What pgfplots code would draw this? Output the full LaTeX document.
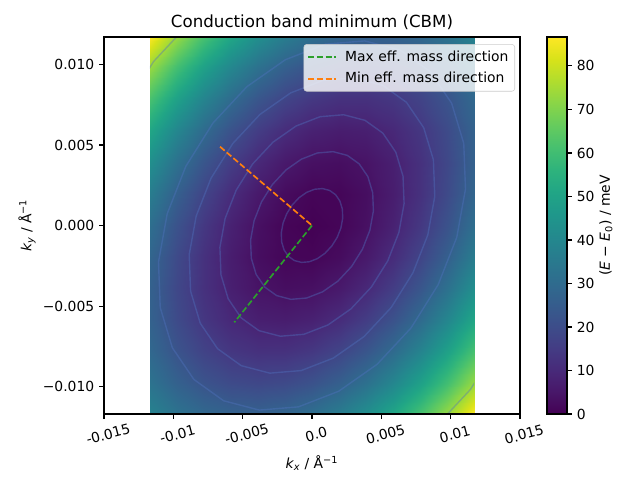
\documentclass[border=0pt]{standalone}
\usepackage{fontspec}
\setmainfont{DejaVu Sans}
\usepackage{pgfplots}
\pgfplotsset{compat=1.18}
\pgfplotsset{/pgf/number format/assume math mode=true}
\definecolor{mplgreen}{HTML}{2CA02C}
\definecolor{mplorange}{HTML}{FF7F0E}
\definecolor{clinec}{HTML}{5073C0}
\begin{document}
\begin{tikzpicture}
% ---------------- data region (filled map + contour lines) ----------------
\begin{axis}[name=data, at={(0,0)}, anchor=center, scale only axis,
  width=233.63pt, height=271.44pt,
  xmin=-11.7, xmax=11.7, ymin=-11.7, ymax=11.7,
  hide axis, colormap/viridis, point meta min=0, point meta max=86.65]
\addplot[surf, shader=interp, mesh/rows=13, mesh/cols=13, point meta=explicit]
table[x=x, y=y, meta=z]{
x y z
-11.7 -11.7 38.193
-9.75 -11.7 32.694
-7.8 -11.7 28.930
-5.85 -11.7 26.899
-3.9 -11.7 26.603
-1.95 -11.7 28.040
0 -11.7 31.211
1.95 -11.7 36.116
3.9 -11.7 42.755
5.85 -11.7 51.129
7.8 -11.7 61.236
9.75 -11.7 73.076
11.7 -11.7 86.651

-11.7 -9.75 32.694
-9.75 -9.75 26.522
-7.8 -9.75 22.085
-5.85 -9.75 19.381
-3.9 -9.75 18.412
-1.95 -9.75 19.176
0 -9.75 21.674
1.95 -9.75 25.906
3.9 -9.75 31.872
5.85 -9.75 39.573
7.8 -9.75 49.007
9.75 -9.75 60.174
11.7 -9.75 73.076

-11.7 -7.8 28.930
-9.75 -7.8 22.085
-7.8 -7.8 16.975
-5.85 -7.8 13.599
-3.9 -7.8 11.956
-1.95 -7.8 12.047
0 -7.8 13.872
1.95 -7.8 17.431
3.9 -7.8 22.724
5.85 -7.8 29.751
7.8 -7.8 38.513
9.75 -7.8 49.007
11.7 -7.8 61.236

-11.7 -5.85 26.899
-9.75 -5.85 19.381
-7.8 -5.85 13.599
-5.85 -5.85 9.549
-3.9 -5.85 7.233
-1.95 -5.85 6.651
0 -5.85 7.803
1.95 -5.85 10.689
3.9 -5.85 15.309
5.85 -5.85 21.663
7.8 -5.85 29.751
9.75 -5.85 39.573
11.7 -5.85 51.129

-11.7 -3.9 26.603
-9.75 -3.9 18.412
-7.8 -3.9 11.956
-5.85 -3.9 7.233
-3.9 -3.9 4.244
-1.95 -3.9 2.989
0 -3.9 3.468
1.95 -3.9 5.681
3.9 -3.9 9.628
5.85 -3.9 15.309
7.8 -3.9 22.724
9.75 -3.9 31.872
11.7 -3.9 42.755

-11.7 -1.95 28.040
-9.75 -1.95 19.176
-7.8 -1.95 12.047
-5.85 -1.95 6.651
-3.9 -1.95 2.989
-1.95 -1.95 1.061
0 -1.95 0.867
1.95 -1.95 2.407
3.9 -1.95 5.681
5.85 -1.95 10.689
7.8 -1.95 17.431
9.75 -1.95 25.906
11.7 -1.95 36.116

-11.7 0 31.211
-9.75 0 21.674
-7.8 0 13.872
-5.85 0 7.803
-3.9 0 3.468
-1.95 0 0.867
0 0 0
1.95 0 0.867
3.9 0 3.468
5.85 0 7.803
7.8 0 13.872
9.75 0 21.674
11.7 0 31.211

-11.7 1.95 36.116
-9.75 1.95 25.906
-7.8 1.95 17.431
-5.85 1.95 10.689
-3.9 1.95 5.681
-1.95 1.95 2.407
0 1.95 0.867
1.95 1.95 1.061
3.9 1.95 2.989
5.85 1.95 6.651
7.8 1.95 12.047
9.75 1.95 19.176
11.7 1.95 28.040

-11.7 3.9 42.755
-9.75 3.9 31.872
-7.8 3.9 22.724
-5.85 3.9 15.309
-3.9 3.9 9.628
-1.95 3.9 5.681
0 3.9 3.468
1.95 3.9 2.989
3.9 3.9 4.244
5.85 3.9 7.233
7.8 3.9 11.956
9.75 3.9 18.412
11.7 3.9 26.603

-11.7 5.85 51.129
-9.75 5.85 39.573
-7.8 5.85 29.751
-5.85 5.85 21.663
-3.9 5.85 15.309
-1.95 5.85 10.689
0 5.85 7.803
1.95 5.85 6.651
3.9 5.85 7.233
5.85 5.85 9.549
7.8 5.85 13.599
9.75 5.85 19.381
11.7 5.85 26.899

-11.7 7.8 61.236
-9.75 7.8 49.007
-7.8 7.8 38.513
-5.85 7.8 29.751
-3.9 7.8 22.724
-1.95 7.8 17.431
0 7.8 13.872
1.95 7.8 12.047
3.9 7.8 11.956
5.85 7.8 13.599
7.8 7.8 16.975
9.75 7.8 22.085
11.7 7.8 28.930

-11.7 9.75 73.076
-9.75 9.75 60.174
-7.8 9.75 49.007
-5.85 9.75 39.573
-3.9 9.75 31.872
-1.95 9.75 25.906
0 9.75 21.674
1.95 9.75 19.176
3.9 9.75 18.412
5.85 9.75 19.381
7.8 9.75 22.085
9.75 9.75 26.522
11.7 9.75 32.694

-11.7 11.7 86.651
-9.75 11.7 73.076
-7.8 11.7 61.236
-5.85 11.7 51.129
-3.9 11.7 42.755
-1.95 11.7 36.116
0 11.7 31.211
1.95 11.7 28.040
3.9 11.7 26.603
5.85 11.7 26.899
7.8 11.7 28.930
9.75 11.7 32.694
11.7 11.7 38.193
};
% contour lines
\addplot[clinec, opacity=0.4, line width=1pt, forget plot] coordinates {(1.703,1.911) (1.275,2.175) (0.761,2.291) (0.194,2.251) (-0.385,2.057) (-0.939,1.723) (-1.428,1.272) (-1.820,0.734) (-2.088,0.146) (-2.214,-0.452) (-2.189,-1.019) (-2.014,-1.517) (-1.703,-1.911) (-1.275,-2.175) (-0.761,-2.291) (-0.194,-2.251) (0.385,-2.057) (0.939,-1.723) (1.428,-1.272) (1.820,-0.734) (2.088,-0.146) (2.214,0.452) (2.189,1.019) (2.014,1.517) (1.703,1.911)};
\addplot[clinec, opacity=0.4, line width=1pt, forget plot] coordinates {(3.406,3.823) (2.551,4.351) (1.521,4.583) (0.389,4.502) (-0.770,4.115) (-1.877,3.447) (-2.856,2.544) (-3.640,1.468) (-4.176,0.292) (-4.428,-0.904) (-4.377,-2.038) (-4.029,-3.034) (-3.406,-3.823) (-2.551,-4.351) (-1.521,-4.583) (-0.389,-4.502) (0.770,-4.115) (1.877,-3.447) (2.856,-2.544) (3.640,-1.468) (4.176,-0.292) (4.428,0.904) (4.377,2.038) (4.029,3.034) (3.406,3.823)};
\addplot[clinec, opacity=0.4, line width=1pt, forget plot] coordinates {(5.109,5.734) (3.826,6.526) (2.282,6.874) (0.583,6.753) (-1.155,6.172) (-2.816,5.170) (-4.284,3.817) (-5.460,2.203) (-6.264,0.438) (-6.641,-1.356) (-6.566,-3.057) (-6.043,-4.551) (-5.109,-5.734) (-3.826,-6.526) (-2.282,-6.874) (-0.583,-6.753) (1.155,-6.172) (2.816,-5.170) (4.284,-3.817) (5.460,-2.203) (6.264,-0.438) (6.641,1.356) (6.566,3.057) (6.043,4.551) (5.109,5.734)};
\addplot[clinec, opacity=0.4, line width=1pt, forget plot] coordinates {(6.812,7.645) (5.101,8.701) (3.043,9.165) (0.778,9.004) (-1.540,8.230) (-3.754,6.894) (-5.712,5.089) (-7.280,2.937) (-8.352,0.584) (-8.855,-1.808) (-8.755,-4.076) (-8.057,-6.068) (-6.812,-7.645) (-5.101,-8.701) (-3.043,-9.165) (-0.778,-9.004) (1.540,-8.230) (3.754,-6.894) (5.712,-5.089) (7.280,-2.937) (8.352,-0.584) (8.855,1.808) (8.755,4.076) (8.057,6.068) (6.812,7.645)};
\addplot[clinec, opacity=0.4, line width=1pt, forget plot] coordinates {(8.515,9.557) (6.377,10.877) (3.804,11.457) (0.972,11.256) (-1.926,10.287) (-4.693,8.617) (-7.140,6.361) (-9.100,3.671) (-10.441,0.730) (-11.069,-2.260) (-10.944,-5.096) (-10.072,-7.585) (-8.515,-9.557) (-6.377,-10.877) (-3.804,-11.457) (-0.972,-11.256) (1.926,-10.287) (4.693,-8.617) (7.140,-6.361) (9.100,-3.671) (10.441,-0.730) (11.069,2.260) (10.944,5.096) (10.072,7.585) (8.515,9.557)};
\addplot[clinec, opacity=0.4, line width=1pt, forget plot] coordinates {(13.623,15.290) (10.202,17.402) (6.086,18.330) (1.555,18.009) (-3.081,16.459) (-7.508,13.787) (-11.423,10.178) (-14.559,5.874) (-16.705,1.168) (-17.710,-3.615) (-17.510,-8.153) (-16.114,-12.135) (-13.623,-15.290) (-10.202,-17.402) (-6.086,-18.330) (-1.555,-18.009) (3.081,-16.459) (7.508,-13.787) (11.423,-10.178) (14.559,-5.874) (16.705,-1.168) (17.710,3.615) (17.510,8.153) (16.114,12.135) (13.623,15.290)};
\end{axis}
% ---------------- main axis: frame, ticks, legend, colorbar ----------------
\begin{axis}[name=main, at={(0,0)}, anchor=center, scale only axis,
  width=299.52pt, height=271.44pt,
  xmin=-15, xmax=15, ymin=-11.7, ymax=11.7,
  font=\fontsize{10}{12}\selectfont,
  xtick={-15,-10,-5,0,5,10,15},
  xticklabels={-0.015,-0.01,-0.005,0.0,0.005,0.01,0.015},
  ytick={-10,-5,0,5,10},
  yticklabels={−0.010,−0.005,0.000,0.005,0.010},
  tick align=outside, tick pos=left, major tick length=3.5pt,
  every tick/.style={black, line width=0.8pt},
  axis line style={line width=0.8pt},
  xticklabel style={rotate=15, anchor=center, yshift=-11.5pt},
  title={Conduction band minimum (CBM)},
  every axis title shift=0pt,
  title style={font=\fontsize{12}{14}\selectfont, at={(0.5,1.0398)}, anchor=center},
  xlabel={{\itshape k}\textsubscript{\itshape x} / Å\textsuperscript{−1}},
  xlabel style={at={(0.5,-0.130)}, anchor=center},
  ylabel={{\itshape k}\textsubscript{\itshape y} / Å\textsuperscript{−1}},
  ylabel style={at={(-0.185,0.5)}, anchor=center},
  legend style={at={(0.988,0.981)}, anchor=north east, draw=black!20, fill=white,
    fill opacity=0.8, text opacity=1, rounded corners=2pt,
    font=\fontsize{10}{12}\selectfont, inner sep=2.5pt, row sep=2.5pt, cells={anchor=west}},
  legend image code/.code={\draw[#1] (1pt,0pt) -- (21pt,0pt);},
  colorbar, colormap/viridis, point meta min=0, point meta max=86.65,
  colorbar style={at={(parent axis.north east)}, anchor=north west, xshift=10.9pt,
    width=14.4pt, height=271.44pt, scale only axis,
    ytick={0,10,...,80}, ytick pos=right, yticklabel pos=right,
    tick align=outside, major tick length=3.5pt,
    every tick/.style={black, line width=0.8pt},
    axis line style={line width=0.8pt},
    yticklabel style={font=\fontsize{10}{12}\selectfont},
    ylabel={(\textit{E} − \textit{E}\textsubscript{0}) / meV},
    ylabel style={at={(2.95,0.5)}, anchor=center, font=\fontsize{10}{12}\selectfont}},
]
\addplot[mplgreen, line width=1.2pt, dash pattern=on 4.4pt off 1.9pt] coordinates {(0,0) (-5.60,-6.01)};
\addlegendentry{\hspace{4pt}Max eff. mass direction}
\addplot[mplorange, line width=1.2pt, dash pattern=on 4.4pt off 1.9pt] coordinates {(-6.63,4.89) (0,0)};
\addlegendentry{\hspace{4pt}Min eff. mass direction}
\end{axis}
\pgfresetboundingbox
\path ([shift={(-74.88pt,-47.52pt)}]main.south west) rectangle ([shift={(86.4pt,26.64pt)}]main.north east);
\end{tikzpicture}
\end{document}
